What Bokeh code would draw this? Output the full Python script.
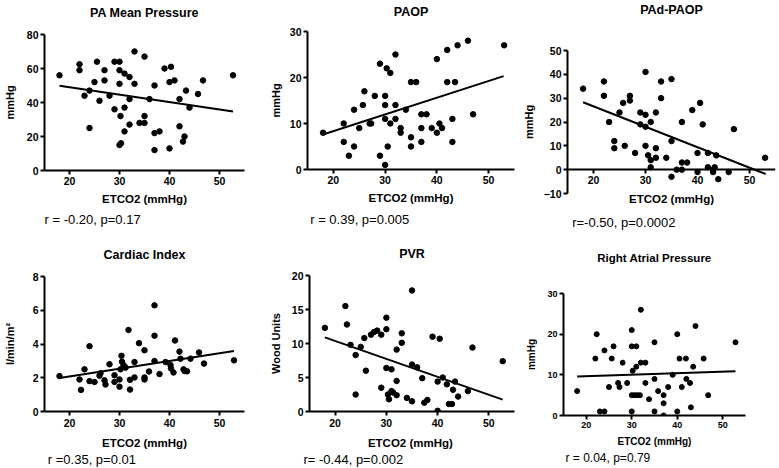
from bokeh.plotting import figure
from bokeh.models import Range1d, SingleIntervalTicker, Title
from bokeh.layouts import row, column
from bokeh.embed import file_html
from bokeh.resources import INLINE

# ---------------- data ----------------
pa_etco2 = [18, 22, 22, 23, 24, 24, 25, 25.5, 26, 27, 27, 28, 29, 29, 30, 30, 30, 30.2, 30, 30.3,
            31, 31, 31, 32, 32, 32, 33, 33, 34, 35, 35, 35, 36, 37, 37, 37, 38, 39, 40, 40,
            40.3, 41, 42, 42, 43, 42.7, 43.3, 44, 45.7, 46.7, 52.7]
pa_mean = [56, 62.5, 59, 44, 47, 25, 52, 64, 41, 53, 59, 44, 64, 36, 64, 59, 51, 32, 15, 16,
           57, 37, 23, 55, 42, 27, 70, 51, 28, 67, 32, 28, 42, 50, 22, 12, 23, 60, 52, 13,
           61, 53, 42, 26, 20, 17, 47, 37, 45, 53, 56]
pa_fit_x = [18, 52.7]
pa_fit_y = [49.8, 34.7]

paop_etco2 = [18, 22, 22, 23, 24, 24, 25, 25.7, 26, 27, 27.3, 28, 29, 29, 30, 30, 30, 30, 30.3, 30.5,
              31, 31, 32, 32, 32, 33, 33, 34, 35, 36, 35, 35, 37, 37, 37, 38, 39, 40, 40, 40.5,
              41, 42, 42, 43, 43, 43.5, 44, 46, 47, 53]
paop = [8, 10, 6, 3, 13, 5, 9, 14, 17, 10, 10, 16, 23, 3, 16, 14, 11, 1, 22, 5,
        21, 10, 25, 14, 11, 9, 8, 13, 19, 19, 7, 5, 12, 9, 6, 12, 9, 24, 8, 10,
        9, 26, 19, 11, 6, 19, 27, 28, 12, 27]
paop_fit_x = [18, 52.9]
paop_fit_y = [7.6, 20.3]

pad_etco2 = [18, 22, 22, 23, 24, 24, 25, 25.7, 26, 27, 27, 28, 29, 29, 30, 30, 30, 30, 30.5, 31,
             31, 31, 32, 32, 32, 33, 33, 34, 35, 35, 35, 36, 37, 37, 37, 38, 39, 40, 40, 40.5,
             41, 42, 42, 43, 43, 43.3, 43.6, 44, 46, 47, 53]
pad_paop = [34, 37, 31, 20, 12, 9, 24, 28, 10, 31, 29, 7, 24, 19, 41, 23, 18, 10, 6, 20,
            4, 1, 24, 9, 5, 37, 30, 5, 38, 12, -3, 0, 20, 3, 0, 3, 25, 7, -1, 28,
            19, 7, 1, 0, -1, 1, 6, -4, -1, 17, 5]
pad_fit_x = [18, 53.1]
pad_fit_y = [28.3, -1.8]

ci_etco2 = [18, 22, 22.3, 23, 24, 24, 25, 26, 26.2, 27, 27.2, 28, 29, 29, 30, 30, 30.2, 30.4, 30.5, 30.8,
            31, 31.2, 31.8, 32.1, 32.1, 33, 33, 33.9, 35, 35, 35, 35.9, 37, 37, 37, 38, 39.2, 40.2, 40.3, 40.8,
            41.1, 42, 42.2, 42.8, 43, 43.5, 44.2, 45.9, 46.9, 52.9]
ci = [2.1, 1.9, 1.28, 2.5, 3.87, 1.8, 1.75, 2.12, 2.27, 1.85, 1.6, 2.8, 2.15, 1.75, 1.9, 1.47, 2.5, 3.3, 2.95, 2.75,
      2.66, 2.6, 4.83, 1.88, 1.3, 2.93, 2.02, 4.05, 3.63, 2.02, 1.9, 2.37, 6.29, 4.49, 2.99, 2.22, 2.93, 2.75, 2.55, 2.31,
      4.21, 3.55, 3.13, 2.5, 2.4, 2.38, 3.13, 3.5, 2.84, 3.03]
ci_fit_x = [18, 52.9]
ci_fit_y = [1.98, 3.58]

pvr_etco2 = [18, 22, 22.3, 23, 24, 24, 25, 25.7, 26, 27, 27.6, 28.2, 29, 29, 30, 30, 30, 30.3, 30.5, 31,
             31, 31.3, 32, 32, 32, 33, 33, 34, 35, 35, 35, 36, 37, 37.4, 38, 39, 40, 40, 40.4, 41,
             41.8, 42.2, 42.8, 43, 43.4, 44, 45.9, 46.8, 52.7]
pvr = [12.3, 15.5, 12.8, 9.8, 8.3, 2.5, 9.5, 10.8, 6.0, 11.3, 11.7, 11.9, 11.3, 3.5, 13.8, 12.1, 6.4, 2.5, 1.8, 6.2,
       3.0, 2.8, 2.4, 9.1, 4.5, 11.5, 10.1, 2.0, 17.8, 6.9, 1.5, 6.5, 4.9, 1.3, 1.7, 11.0, 4.4, 0.1, 10.7, 5.0,
       4.0, 1.1, 1.1, 3.2, 4.4, 2.2, 3.0, 9.4, 7.4]
pvr_fit_x = [18, 52.7]
pvr_fit_y = [10.9, 1.75]

rap_etco2 = [18, 22, 22.3, 23, 24, 24, 25, 25.6, 26, 27, 27.3, 28, 29, 30, 30, 30.2, 30, 30, 30.6, 31,
             31, 31.2, 31.8, 32, 32, 33, 33, 33.8, 35, 35, 35, 35.8, 37, 37, 37, 38, 39, 40, 40, 40.5,
             41, 41.9, 42, 42.8, 43, 43.5, 44, 45.8, 46.8, 52.8]
rap = [6, 14, 20, 1, 1, 16, 7, 14, 17, 8, 7, 13, 8, 21, 17, 11, 5, 1, 5, 17,
       12, 5, 5, 26, 13, 13, 8, 4, 18, 9, 1, 6, 5, 3, 0, 7, 10, 20, 1, 14,
       7, 14, 9, 8, 2, 12, 22, 14, 5, 18]
rap_fit_x = [18, 52.8]
rap_fit_y = [9.6, 10.9]

titles = ["PA Mean Pressure", "PAOP", "PAd-PAOP", "Cardiac Index", "PVR", "Right Atrial Pressure"]
y_labels = ["mmHg", "mmHg", "mmHg", "l/min/m\u00b2", "Wood Units", "mmHg"]
x_labels = ["ETCO2 (mmHg)", "ETCO2 (mmHg)", "ETCO2 (mmHg)", "ETCO2 (mmHg)", "ETCO2  (mmHg)", "ETCO2 (mmHg)"]
stats = ["r = -0.20, p=0.17", "r = 0.39, p=0.005", "r=-0.50, p=0.0002",
         "r =0.35, p=0.01", "r= -0.44, p=0.002", "r = 0.04, p=0.79"]
y_limits = [(0, 80), (0, 30), (-10, 50), (0, 8), (0, 20), (0, 30)]
y_steps = [20, 10, 10, 2, 5, 10]
x_limits = [(15, 55)] * 6

# ---------------- styling / layout ----------------
FONT = "Liberation Sans"
# width, height, border left, right, top, bottom
geoms = [(266, 234, 40, 22, 34, 64), (253, 234, 39, 5, 31, 64), (260, 234, 42, 4, 50, 41),
         (266, 234, 40, 22, 42, 55), (253, 234, 39, 5, 41, 55), (260, 234, 44, 34, 59, 52)]
title_gap = [10.3, 8.3, 29, 10.3, 10, 25.2]      # spacer between frame and title
title_offset = [0, 0, 0, 0, 0, 0]
stat_offset = [0, 2.7, 4.7, 3.3, -6, 2]
stat_standoff = [9.6, 11, 0, 0, 0, 3]
stat_gap = [0, 0, 6, 0, 0, 0]                   # extra spacer above the r / p text
big = dict(title="12.5px", tick="10.5px", xlab="11.5px", ylab="11px", stat="13px", dot=5.5)
small = dict(title="11.5px", tick="9px", xlab="10px", ylab="10px", stat="12px", dot=5)
fonts = [big, big, big, big, big, small]
ylab_standoff = [8, 5, 6, 14, 7, 7]
xtick_standoff = [2, 2, 2, 3, 3, 2]
xlab_standoff = [5, 5, 5, 7, 7, 5]

series = [(pa_etco2, pa_mean, pa_fit_x, pa_fit_y),
          (paop_etco2, paop, paop_fit_x, paop_fit_y),
          (pad_etco2, pad_paop, pad_fit_x, pad_fit_y),
          (ci_etco2, ci, ci_fit_x, ci_fit_y),
          (pvr_etco2, pvr, pvr_fit_x, pvr_fit_y),
          (rap_etco2, rap, rap_fit_x, rap_fit_y)]


def text_title(text, size, bold=True, align="center", standoff=0, offset=0):
    return Title(text=text, align=align, vertical_align="top", standoff=standoff, offset=offset,
                 text_font=FONT, text_font_style="bold" if bold else "normal",
                 text_font_size=size, text_color="black")


def spacer(gap):
    return Title(text=" ", text_font_size="1px", standoff=gap)


def make_panel(i):
    xs, ys, fx, fy = series[i]
    w, h, bl, br, bt, bb = geoms[i]
    f = fonts[i]
    p = figure(width=w, height=h, x_range=Range1d(*x_limits[i]), y_range=Range1d(*y_limits[i]),
               output_backend="svg", toolbar_location=None,
               min_border_left=bl, min_border_right=br, min_border_top=bt, min_border_bottom=bb)
    p.outline_line_color = None
    p.background_fill_color = "white"
    p.border_fill_color = "white"
    p.xgrid.visible = False
    p.ygrid.visible = False

    p.scatter(xs, ys, size=f["dot"], color="black")
    p.line(fx, fy, line_width=2, color="black")

    fixed_x_axis = y_limits[i][0] < 0
    p.xaxis.ticker = SingleIntervalTicker(interval=10, num_minor_ticks=0)
    p.yaxis.ticker = SingleIntervalTicker(interval=y_steps[i], num_minor_ticks=0)
    if not fixed_x_axis:
        p.xaxis.axis_label = x_labels[i]
    p.yaxis.axis_label = y_labels[i]
    for ax in (p.xaxis[0], p.yaxis[0]):
        ax.axis_line_width = 2
        ax.axis_line_color = "black"
        ax.major_tick_line_width = 2
        ax.major_tick_line_color = "black"
        ax.major_tick_out = 4
        ax.major_tick_in = 0
        ax.minor_tick_line_color = None
        ax.major_label_text_font = FONT
        ax.major_label_text_font_style = "bold"
        ax.major_label_text_font_size = f["tick"]
        ax.major_label_text_color = "black"
        ax.axis_label_text_font = FONT
        ax.axis_label_text_font_style = "bold"
        ax.axis_label_text_color = "black"
    p.xaxis.axis_label_text_font_size = f["xlab"]
    p.yaxis.axis_label_text_font_size = f["ylab"]
    p.yaxis.major_label_standoff = 2
    p.yaxis.axis_label_standoff = ylab_standoff[i]
    p.xaxis.major_label_standoff = xtick_standoff[i]
    p.xaxis.axis_label_standoff = xlab_standoff[i]

    # title: invisible spacer next to the frame, then the title text above it
    p.add_layout(spacer(title_gap[i]), "above")
    p.add_layout(text_title(titles[i], f["title"], offset=title_offset[i]), "above")

    if fixed_x_axis:
        # x axis drawn through y = 0, its label placed just under the frame
        p.xaxis.fixed_location = 0
        p.add_layout(text_title(x_labels[i], f["xlab"], standoff=-2), "below")
    if stat_gap[i]:
        p.add_layout(spacer(stat_gap[i]), "below")
    p.add_layout(text_title(stats[i], f["stat"], bold=False, align="left",
                            standoff=stat_standoff[i], offset=stat_offset[i]), "below")
    return p


panels = [make_panel(i) for i in range(6)]
layout = column(row(*[column(p) for p in panels[:3]]),
                row(*[column(p) for p in panels[3:]]))

open("out.html", "w").write(file_html(layout, INLINE))
